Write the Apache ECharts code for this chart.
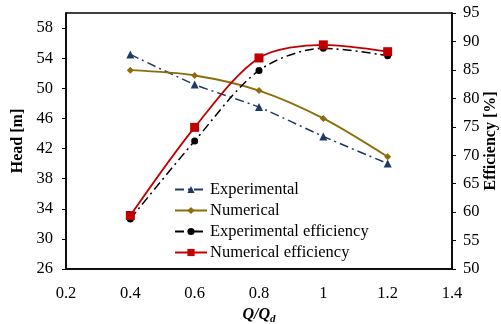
<!DOCTYPE html>
<html><head><meta charset="utf-8">
<script src="https://cdn.jsdelivr.net/npm/echarts@6/dist/echarts.min.js"></script>
<style>html,body{margin:0;padding:0;background:#fff}#c{width:501px;height:324px}</style>
</head><body><div id="c"></div>
<script>
var flowRatio = [0.4, 0.6, 0.8, 1.0, 1.2];
var headExperimental = [54.5, 50.5, 47.5, 43.6, 40.0];
var headNumerical = [52.4, 51.7, 49.7, 46.0, 40.9];
var effExperimental = [58.8, 72.5, 84.9, 88.8, 87.5];
var effNumerical = [59.4, 74.9, 87.1, 89.4, 88.2];
var headTicks = [26, 30, 34, 38, 42, 46, 50, 54, 58];
var effTicks = [50, 55, 60, 65, 70, 75, 80, 85, 90, 95];
var xTicks = [0.2, 0.4, 0.6, 0.8, 1, 1.2, 1.4];

function pairs(xs, ys){ return xs.map(function(x,i){return [x, ys[i]];}); }
var font = 'Liberation Serif';
var fs = 16.5;
var chart = echarts.init(document.getElementById('c'), null, {renderer:'canvas'});
chart.setOption({
  animation:false,
  textStyle:{fontFamily:font},
  grid:{left:66, right:49, top:13, bottom:55, containLabel:false, outerBoundsMode:'none',
    show:true, borderColor:'#000', borderWidth:1.5},
  legend:{
    left:174, top:181, padding:0, orient:'vertical', itemWidth:32, itemHeight:9, itemGap:4,
    textStyle:{fontFamily:font, fontSize:fs, color:'#000', padding:[0,0,0,-2]},
    data:['Experimental','Numerical','Experimental efficiency','Numerical efficiency']
  },
  xAxis:{
    type:'value', min:0.2, max:1.4, interval:0.2,
    axisLine:{lineStyle:{color:'#000', width:1.5}},
    axisTick:{show:false}, splitLine:{show:false},
    axisLabel:{color:'#000', fontSize:fs, fontFamily:font, margin:16, customValues:xTicks,
      formatter:function(v){return String(Math.round(v*10)/10);}},
    name:'{a|Q/Q}{b|d}', nameLocation:'middle', nameGap:35,
    nameTextStyle:{rich:{
      a:{fontFamily:font, fontSize:16, fontWeight:'bold', fontStyle:'italic', color:'#000'},
      b:{fontFamily:font, fontSize:11, fontWeight:'bold', fontStyle:'italic', color:'#000', verticalAlign:'bottom', padding:[8,0,0,0]}
    }}
  },
  yAxis:[{
    type:'value', min:26, max:60, position:'left',
    axisLine:{show:true, lineStyle:{color:'#000', width:1.5}},
    axisTick:{show:true, length:4, lineStyle:{color:'#000'}, customValues:headTicks},
    axisLabel:{color:'#000', fontSize:fs, fontFamily:font, margin:13, customValues:headTicks},
    splitLine:{show:false},
    name:'Head [m]', nameLocation:'middle', nameGap:37,
    nameTextStyle:{fontFamily:font, fontSize:16, fontWeight:'bold', color:'#000'}
  },{
    type:'value', min:50, max:95, interval:5, position:'right',
    axisLine:{show:true, lineStyle:{color:'#000', width:1.5}},
    axisTick:{show:true, length:4, lineStyle:{color:'#000'}, customValues:effTicks},
    axisLabel:{color:'#000', fontSize:fs, fontFamily:font, margin:11, customValues:effTicks},
    splitLine:{show:false},
    name:'Efficiency [%]', nameLocation:'middle', nameGap:31, nameRotate:90, nameMoveOverlap:false,
    nameTextStyle:{fontFamily:font, fontSize:16, fontWeight:'bold', color:'#000'}
  }],
  series:[{
    name:'Experimental', type:'line', yAxisIndex:0, data:pairs(flowRatio, headExperimental),
    symbol:'triangle', symbolSize:8, smooth:0.2,
    lineStyle:{color:'#1F3864', width:1.5, type:[9,4,2,4]},
    itemStyle:{color:'#1F3864'}
  },{
    name:'Numerical', type:'line', yAxisIndex:0, data:pairs(flowRatio, headNumerical),
    symbol:'diamond', symbolSize:7, smooth:0.3,
    lineStyle:{color:'#8C6D0A', width:1.8},
    itemStyle:{color:'#8C6D0A'}
  },{
    name:'Experimental efficiency', type:'line', yAxisIndex:1, data:pairs(flowRatio, effExperimental),
    symbol:'circle', symbolSize:7, smooth:0.3,
    lineStyle:{color:'#000', width:1.5, type:[9,4,2,4]},
    itemStyle:{color:'#000'}
  },{
    name:'Numerical efficiency', type:'line', yAxisIndex:1, data:pairs(flowRatio, effNumerical),
    symbol:'rect', symbolSize:9, smooth:0.3,
    lineStyle:{color:'#C00000', width:1.8},
    itemStyle:{color:'#C00000'}
  }]
});
</script></body></html>
